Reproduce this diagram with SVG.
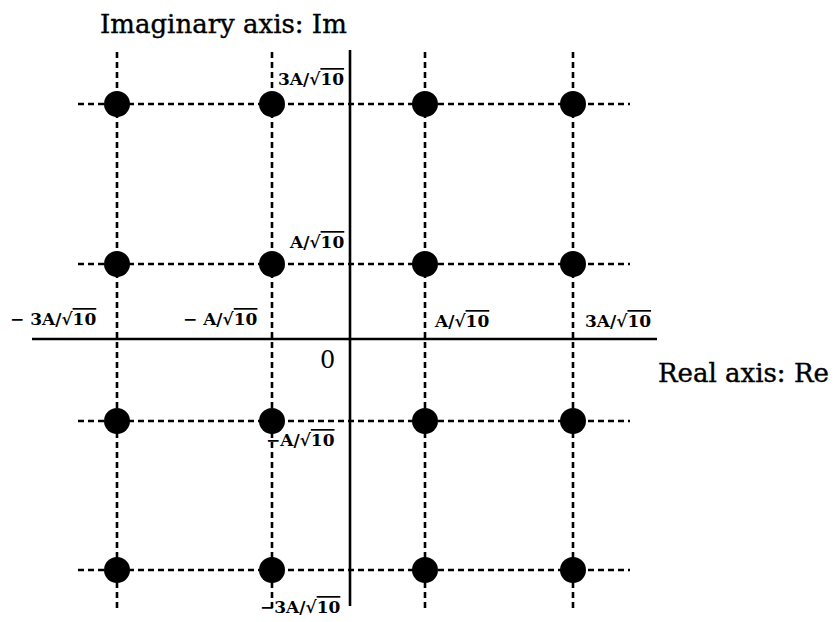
<svg xmlns="http://www.w3.org/2000/svg" width="838" height="622" viewBox="0 0 838 622">
<style>
.dash{stroke:#000;stroke-width:2.6;stroke-dasharray:6 4;fill:none}
.axis{stroke:#000;stroke-width:2.6;fill:none}
.dot{fill:#000}
.t{font-family:"DejaVu Serif","Liberation Serif",serif;fill:#000}
.big{font-size:26px;stroke:#000;stroke-width:0.4}
.zero{font-size:24px}
.lab{font-size:17px;font-weight:bold}
.ov{text-decoration:overline}
</style>
<rect width="838" height="622" fill="#fff"/>
<g id="connectors">
<line class="dash" x1="78" y1="104" x2="630" y2="104"/>
<line class="dash" x1="78" y1="264" x2="630" y2="264"/>
<line class="dash" x1="78" y1="421" x2="630" y2="421"/>
<line class="dash" x1="78" y1="570" x2="630" y2="570"/>
<line class="dash" x1="117" y1="52" x2="117" y2="609"/>
<line class="dash" x1="272" y1="52" x2="272" y2="609"/>
<line class="dash" x1="425" y1="52" x2="425" y2="609"/>
<line class="dash" x1="573" y1="52" x2="573" y2="609"/>
</g>
<g id="axes">
<line class="axis" x1="32" y1="339" x2="657" y2="339"/>
<line class="axis" x1="350" y1="50" x2="350" y2="606"/>
</g>
<g id="p11"><circle class="dot" cx="117" cy="104" r="13"/></g>
<g id="p12"><circle class="dot" cx="272" cy="104" r="13"/></g>
<g id="p13"><circle class="dot" cx="425" cy="104" r="13"/></g>
<g id="p14"><circle class="dot" cx="573" cy="104" r="13"/></g>
<g id="p21"><circle class="dot" cx="117" cy="264" r="13"/></g>
<g id="p22"><circle class="dot" cx="272" cy="264" r="13"/></g>
<g id="p23"><circle class="dot" cx="425" cy="264" r="13"/></g>
<g id="p24"><circle class="dot" cx="573" cy="264" r="13"/></g>
<g id="p31"><circle class="dot" cx="117" cy="421" r="13"/></g>
<g id="p32"><circle class="dot" cx="272" cy="421" r="13"/></g>
<g id="p33"><circle class="dot" cx="425" cy="421" r="13"/></g>
<g id="p34"><circle class="dot" cx="573" cy="421" r="13"/></g>
<g id="p41"><circle class="dot" cx="117" cy="570" r="13"/></g>
<g id="p42"><circle class="dot" cx="272" cy="570" r="13"/></g>
<g id="p43"><circle class="dot" cx="425" cy="570" r="13"/></g>
<g id="p44"><circle class="dot" cx="573" cy="570" r="13"/></g>
<g id="labels">
<text class="t big" x="100" y="33">Imaginary axis: Im</text>
<text class="t big" x="658" y="382">Real axis: Re</text>
<text class="t zero" x="320" y="368">0</text>
<text class="t lab" x="278" y="85">3A/√<tspan class="ov">10</tspan></text>
<text class="t lab" x="290" y="248">A/√<tspan class="ov">10</tspan></text>
<text class="t lab" x="10" y="325">− 3A/√<tspan class="ov">10</tspan></text>
<text class="t lab" x="183" y="325">− A/√<tspan class="ov">10</tspan></text>
<text class="t lab" x="435" y="327">A/√<tspan class="ov">10</tspan></text>
<text class="t lab" x="585" y="327">3A/√<tspan class="ov">10</tspan></text>
<text class="t lab" x="266" y="446">−A/√<tspan class="ov">10</tspan></text>
<text class="t lab" x="260" y="613">−3A/√<tspan class="ov">10</tspan></text>
</g>
</svg>
